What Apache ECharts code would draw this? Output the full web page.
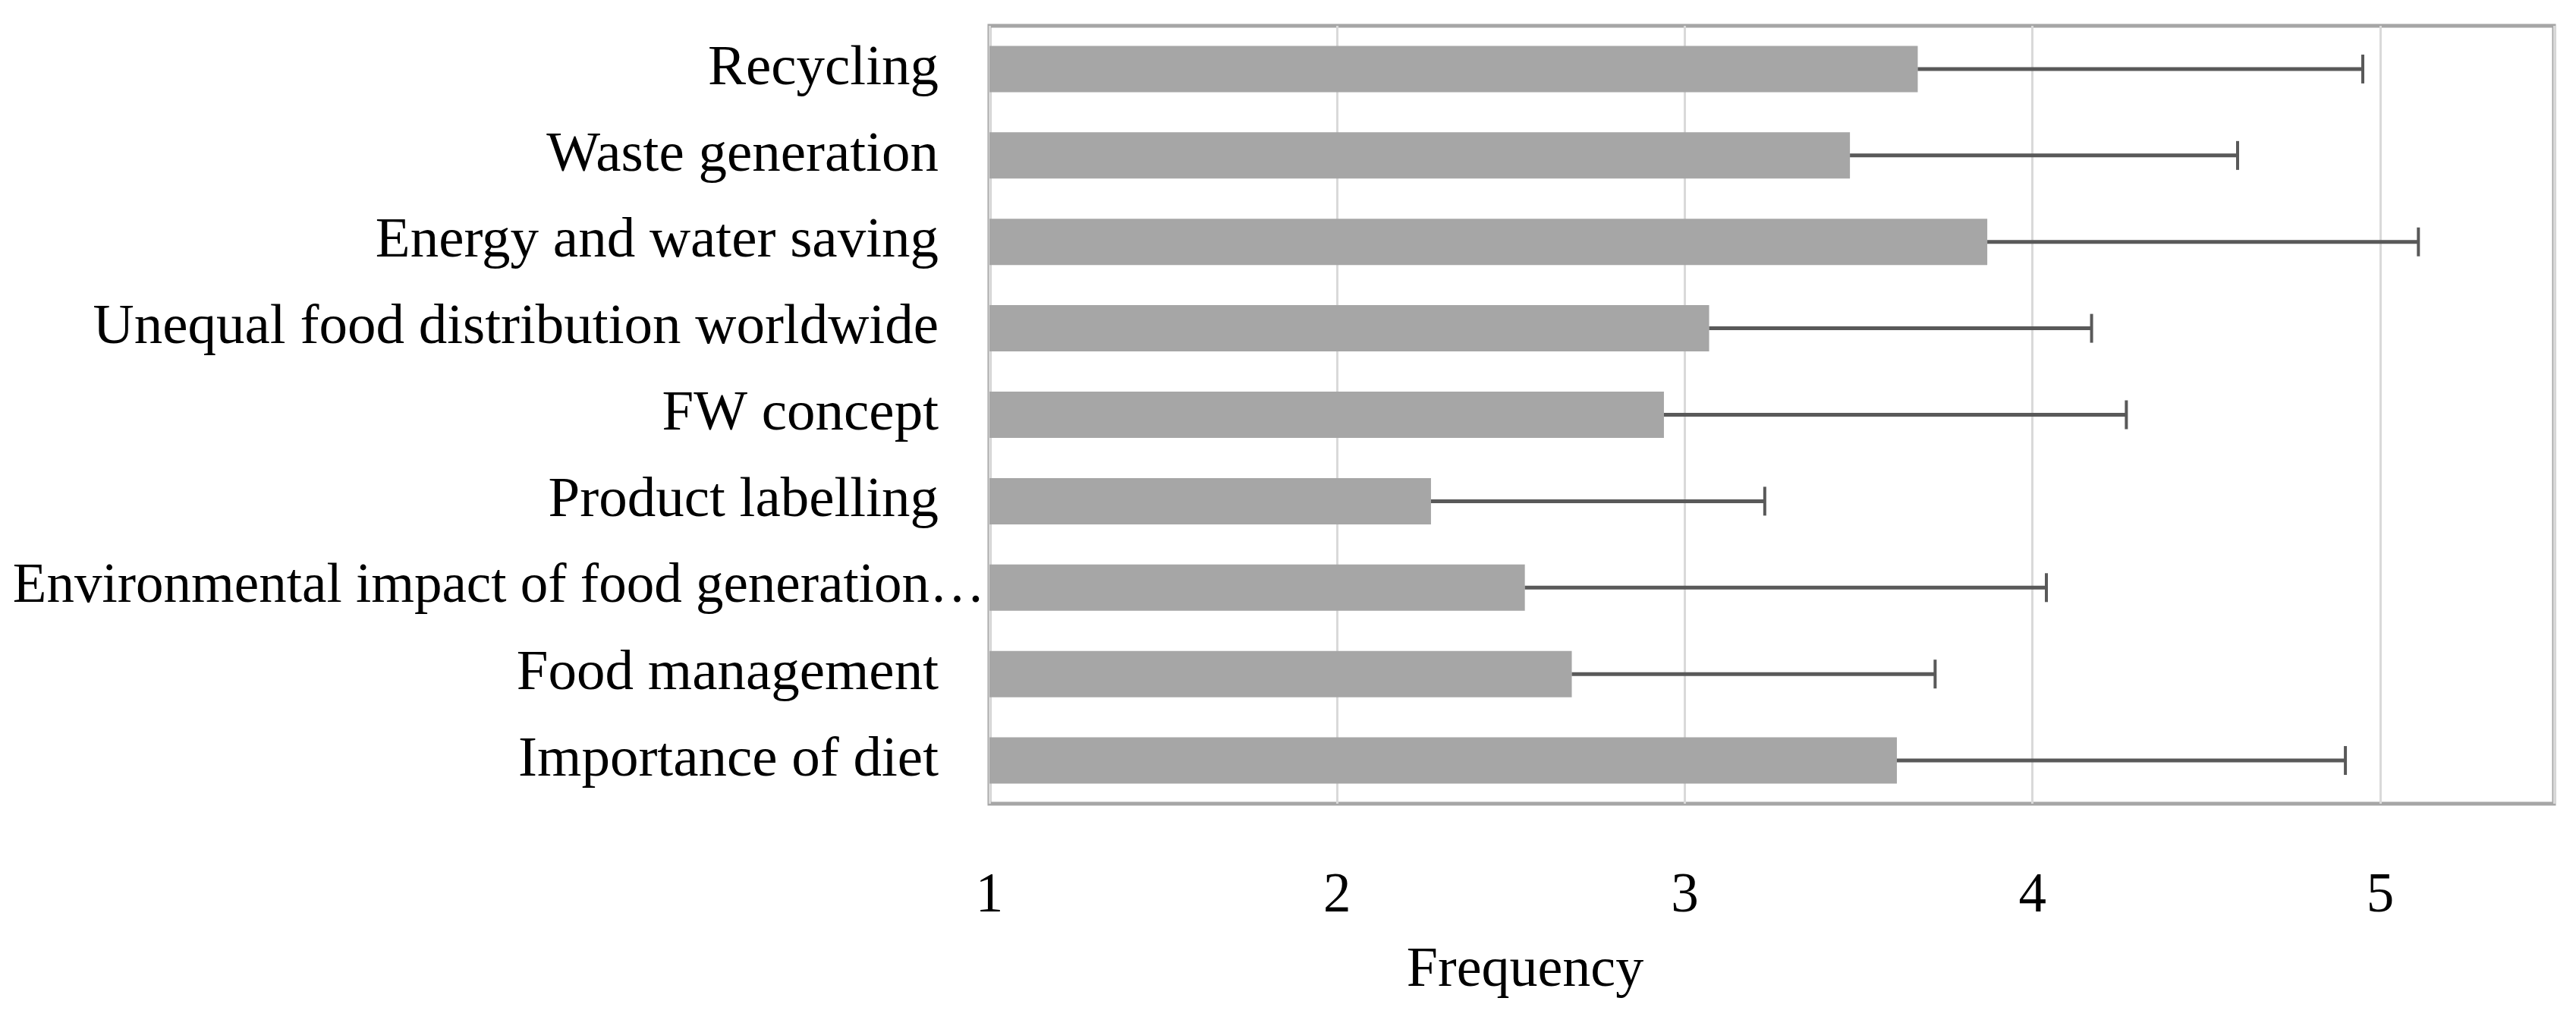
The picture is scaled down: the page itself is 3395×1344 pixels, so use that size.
<!DOCTYPE html>
<html>
<head>
<meta charset="utf-8">
<script src="https://cdn.jsdelivr.net/npm/echarts@6/dist/echarts.min.js"></script>
<style>
html,body{margin:0;padding:0;background:#fff;}
#chart{width:3395px;height:1344px;}
</style>
</head>
<body>
<div id="chart"></div>
<script>
const categories = ['Recycling', 'Waste generation', 'Energy and water saving', 'Unequal food distribution worldwide', 'FW concept', 'Product labelling', 'Environmental impact of food generation…', 'Food management', 'Importance of diet'];
const means = [3.67, 3.475, 3.87, 3.07, 2.94, 2.27, 2.54, 2.675, 3.61];
const errors = [1.28, 1.115, 1.24, 1.10, 1.33, 0.96, 1.50, 1.045, 1.29];
const xTicks = [1, 2, 3, 4, 5];
const axisTitle = 'Frequency';

const FONT = '"Liberation Serif", "Times New Roman", serif';
const FS = 75;

const chart = echarts.init(document.getElementById('chart'));
const errData = means.map((m, i) => [i, m, m + errors[i]]);

chart.setOption({
  animation: false,
  backgroundColor: '#ffffff',
  grid: { left: 1304, right: 29, top: 34, bottom: 285, show: true, borderColor: '#a6a6a6', borderWidth: 5, containLabel: false },
  xAxis: {
    type: 'value', min: xTicks[0], max: 5.5, interval: 1,
    axisLine: { show: false }, axisTick: { show: false },
    splitLine: { show: true, lineStyle: { color: '#d9d9d9', width: 3 } },
    axisLabel: { showMaxLabel: false, margin: 86, fontFamily: FONT, fontSize: 73, color: '#000',
      formatter: v => (xTicks.indexOf(v) >= 0 ? String(v) : '') }
  },
  yAxis: {
    type: 'category', data: categories, inverse: true,
    axisLine: { show: false }, axisTick: { show: false }, splitLine: { show: false },
    axisLabel: {
      margin: 6, fontFamily: FONT, fontSize: FS, color: '#000',
      formatter: v => (v.endsWith('…') ? '{e|' + v + '}' : '{n|' + v + '}'),
      rich: {
        n: { fontFamily: FONT, fontSize: FS, color: '#000', padding: [0, 61, 0, 0] },
        e: { fontFamily: FONT, fontSize: 73, color: '#000' }
      }
    }
  },
  graphic: [{
    type: 'text', x: 2010, y: 1280,
    style: { text: axisTitle, font: '74px ' + FONT, fill: '#000', textAlign: 'center', textVerticalAlign: 'middle' }
  }],
  series: [{
    type: 'bar', data: means, barWidth: 61,
    itemStyle: { color: '#a6a6a6' }, z: 2
  }, {
    type: 'custom', data: errData, z: 3,
    encode: { x: [1, 2], y: 0 },
    renderItem: function (params, api) {
      const idx = api.value(0);
      const p0 = api.coord([api.value(1), idx]);
      const p1 = api.coord([api.value(2), idx]);
      const h = 19;
      return {
        type: 'group',
        children: [
          { type: 'line', shape: { x1: p0[0], y1: p0[1], x2: p1[0], y2: p1[1] }, style: { stroke: '#595959', lineWidth: 5 } },
          { type: 'line', shape: { x1: p1[0], y1: p1[1] - h, x2: p1[0], y2: p1[1] + h }, style: { stroke: '#595959', lineWidth: 4 } }
        ]
      };
    }
  }]
});
</script>
</body>
</html>
